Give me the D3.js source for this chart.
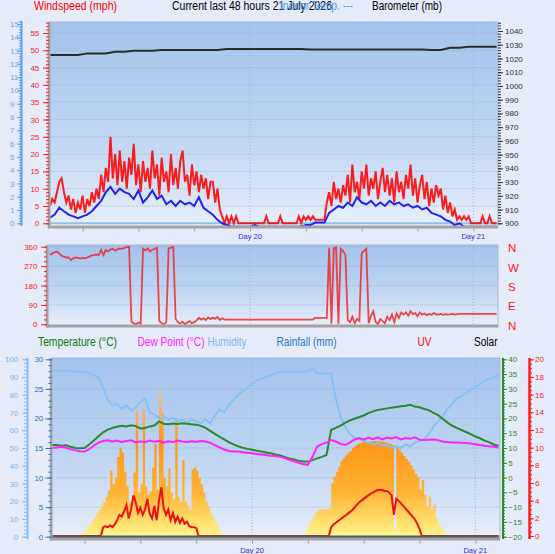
<!DOCTYPE html>
<html>
<head>
<meta charset="utf-8">
<title>Current last 48 hours</title>
<script src="https://d3js.org/d3.v7.min.js"></script>
<style>
  body { margin: 0; background: #e6ebf9; }
  svg { display: block; font-family: "Liberation Sans", Arial, sans-serif; }
</style>
</head>
<body>
<svg width="555" height="554"></svg>
<script>
// time base: hours relative to Day 20 00:00
const startHour = -21.5;
const endHour = 26.65;
const dayHours = [0, 24];
const dayLabels = ["Day 20", "Day 21"];

// wind gust (mph), one value every 15 min
const windGust = [
  5, 7, 6, 9, 12, 13, 9, 6, 8, 4,   7, 3, 6, 4, 8, 3, 7, 5, 9, 6,
  10, 7, 14, 9, 16, 12, 25, 13, 20, 11,   21, 12, 18, 10, 19, 14, 23, 11, 17, 9,
  18, 12, 16, 10, 21, 13, 17, 8, 19, 12,   15, 9, 20, 11, 16, 10, 18, 21, 12, 14,
  8, 17, 11, 15, 9, 14, 10, 13, 7, 12,   12, 6, 10, 4, 2, 0, 2, 0, 2, 0,
  2, 0, 0, 0, 0, 0, 0, 0, 0, 0,   0, 0, 0, 2, 0, 0, 0, 0, 0, 2,
  0, 0, 0, 0, 0, 0, 0, 2, 0, 2,   1, 2, 1, 2, 1, 1, 1, 1, 1, 6,
  9, 5, 12, 7, 10, 6, 11, 8, 14, 6,   17, 9, 12, 7, 15, 10, 17, 8, 13, 10,
  15, 7, 12, 16, 9, 14, 8, 13, 6, 15,   9, 12, 7, 14, 10, 17, 8, 13, 6, 11,
  14, 7, 12, 5, 10, 6, 11, 8, 10, 4,   8, 3, 6, 2, 4, 1, 2, 1, 2, 1,
  2, 0, 0, 0, 0, 0, 2, 0, 0, 2, 0, 0, 0
];
// average wind (mph), every 30 min
const windAvg = [
  1.6, 2.5, 4.5, 3.5, 2.5, 2, 1.5, 2, 2.5, 3.5,   5, 6.5, 9, 10.5, 8.5, 10, 9, 8.5, 7, 9.5,
  6, 7.5, 9.5, 7, 8, 5.5, 6.5, 5, 6.5, 5.5,   6, 5, 7.5, 4.5, 3.5, 2.5, 1, 0, -0.5, -1,
  -1, -1, -1, -1, -0.5, -1, -1, -1, -1, -1,   -1, -1, -1, -1, -1, -0.5, -0.5, 0.2, 0.2, 0.2,
  3, 4, 5, 4.5, 6, 5, 7.5, 6, 5.5, 6.5,   5, 6, 5, 6.5, 5.5, 6, 5, 5.5, 4.5, 5,
  4, 4.5, 3, 2.5, 2, 1, 0.5, -0.5, 0, -1,   -1, -1, -1, -1, -1, -1, -1
];
// barometer (mb), hourly
const barometer = [
  1022.5, 1022.5, 1022.5, 1022.5, 1023.7, 1023.7, 1023.7, 1024.9, 1024.9, 1025.6,
  1025.6, 1025.6, 1026.1, 1026.1, 1026.1, 1026.1, 1026.1, 1026.1, 1026.1, 1026.9,
  1026.9, 1026.9, 1026.9, 1026.9, 1026.9, 1026.9, 1026.9, 1026.9, 1026.6, 1026.6,
  1026.6, 1026.6, 1026.6, 1026.6, 1026.6, 1026.6, 1026.6, 1026.6, 1026.6, 1026.6,
  1026.6, 1026.2, 1026.2, 1027.8, 1027.8, 1028.5, 1028.5, 1028.5, 1028.5
];
// wind direction (degrees), every 15 min
const windDir = [
  321, 328, 335, 337, 328, 318, 314, 310, 310, 298,   306, 310, 308, 305, 308, 306, 310, 314, 320, 321,
  324, 321, 345, 321, 345, 338, 348, 350, 342, 348,   352, 350, 355, 358, 360, 12, 5, 0, 8, 3,
  350, 342, 352, 338, 346, 350, 355, 15, 5, 0,   10, 352, 356, 358, 26, 10, 3, 12, 0, 8,
  15, 5, 10, 18, 30, 22, 28, 20, 32, 25,   30, 26, 34, 20, 28, 22, 22, 22, 22, 22,
  22, 22, 22, 22, 22, 22, 22, 22, 22, 22,   22, 22, 22, 22, 22, 22, 22, 22, 22, 22,
  22, 22, 22, 22, 22, 22, 22, 22, 22, 22,   22, 22, 22, 22, 30, 30, 30, 30, 30, 30,
  355, 3, 352, 358, 2, 350, 340, 322, 20, 10,   35, 5, 25, 15, 330, 340, 350, 5, 40, 60,
  10, 0, 25, 15, 5, 35, 20, 45, 10, 50,   30, 55, 45, 55, 40, 60, 48, 52, 38, 55,
  45, 50, 42, 48, 44, 52, 46, 45, 48, 44,   47, 45, 46, 48, 45, 47, 48, 48, 48, 48,
  48, 48, 48, 48, 48, 48, 48, 48, 48, 48, 48, 48, 48
];

// humidity (%), temperature and dew point (°C), every 30 min
const humidity = [
  93.5, 93.5, 93.5, 93.5, 93.5, 93, 93, 93, 92.5, 91,   90, 84, 77, 74, 75, 72, 74, 71, 73, 76,
  78, 70, 69, 67, 68, 66, 67, 65, 66, 64,   66, 65, 64, 66, 64, 68, 72, 70, 74, 77,
  80, 82, 84, 86, 88, 89, 90, 91, 92, 93,   93, 93, 93, 93, 93, 93.5, 95, 92, 92, 92,
  92, 78, 68, 62, 58, 56, 55, 54, 53, 52,   53, 51, 52, 50, 51, 50, 52, 51, 53, 54,
  55, 58, 62, 65, 68, 72, 75, 78, 79, 81,   83, 84, 86, 88, 89, 90, 91
];
const temperature = [
  11.0, 11.0, 10.8, 10.9, 10.4, 10.0, 9.9, 10.0, 11.2, 12.5,   14.0, 15.3, 16.2, 16.8, 17.2, 17.5, 17.3, 17.7, 17.4, 16.6,
  16.8, 17.3, 17.6, 19.0, 18.2, 18.0, 18.3, 18.1, 18.4, 18.2,   18.0, 17.9, 17.5, 16.8, 15.8, 14.8, 13.8, 12.9, 12.0, 11.2,
  10.6, 10.1, 9.7, 9.4, 9.1, 8.8, 8.5, 8.2, 7.8, 7.5,   7.0, 6.5, 6.1, 5.7, 5.4, 5.4, 5.9, 6.5, 7.0, 7.6,
  16.1, 16.8, 17.6, 18.5, 19.3, 19.9, 20.4, 21.0, 21.8, 22.4,   22.9, 23.1, 23.4, 23.6, 23.9, 24.1, 24.3, 24.6, 24.0, 23.8,
  23.2, 22.8, 21.9, 21.1, 19.9, 18.6, 17.6, 16.8, 16.1, 15.4,   14.7, 13.9, 13.3, 12.5, 11.9, 11.2, 10.7
];
const dewPoint = [
  10.0, 10.2, 10.4, 10.1, 9.6, 9.2, 8.9, 8.8, 9.6, 10.8,   11.8, 12.4, 12.6, 12.2, 12.5, 12.0, 12.4, 12.6, 11.9, 12.2,
  12.0, 12.5, 12.1, 12.4, 11.8, 12.3, 12.0, 12.5, 12.2, 12.0,   12.3, 12.1, 12.4, 12.2, 11.8, 11.0, 10.2, 9.5, 9.0, 8.8,
  8.8, 8.6, 8.4, 8.2, 8.0, 7.8, 7.6, 7.4, 7.3, 7.0,   6.6, 6.0, 5.5, 5.0, 4.6, 4.3, 7.0, 10.5, 11.3, 11.8,
  12.7, 12.2, 11.4, 11.0, 11.8, 12.8, 13.4, 12.8, 13.5, 13.0,   13.6, 12.9, 13.5, 13.2, 13.7, 12.9, 13.4, 13.1, 13.6, 12.8,
  12.7, 12.8, 12.9, 12.6, 12.2, 12.0, 11.9, 11.9, 11.8, 11.7,   11.5, 11.3, 11.0, 10.8, 10.6, 10.4, 10.2
];
// rainfall (mm), every 6 h
const rainfall = [0, 0, 0, 0, 0, 0, 0, 0, 0];

// solar radiation (W/m²) and UV index, every 15 min
const solar = [
  0, 0, 0, 0, 0, 0, 0, 0, 0, 0,   0, 10, 25, 40, 60, 90, 120, 150, 180, 220,
  260, 280, 330, 380, 440, 630, 500, 560, 760, 840,   800, 620, 480, 330, 290, 610, 1200, 420, 500, 1220,
  480, 400, 430, 660, 880, 450, 1390, 1180, 560, 480,   650, 420, 360, 1110, 380, 330, 730, 340, 300, 260,
  640, 660, 630, 560, 500, 420, 330, 280, 220, 190,   140, 95, 55, 20, 0, 0, 0, 0, 0, 0,
  0, 0, 0, 0, 0, 0, 0, 0, 0, 0,   0, 0, 0, 0, 0, 0, 0, 0, 0, 0,
  0, 0, 0, 0, 0, 0, 0, 0, 10, 60,   110, 150, 195, 225, 250, 260, 260, 265, 262, 268,
  510, 570, 620, 670, 720, 750, 775, 800, 820, 845,   865, 880, 890, 898, 903, 906, 908, 910, 912, 912,
  910, 908, 905, 900, 893, 885, 875, 60, 850, 825,   800, 770, 740, 715, 680, 640, 600, 570, 450, 540,
  400, 290, 380, 255, 310, 175, 115, 85, 50, 25,   0, 0, 0, 0, 0, 0, 0, 0, 0, 0,
  0, 0, 0, 0, 0, 0, 0, 0, 0, 0, 0, 0, 0
];
const uvIndex = [
  0, 0, 0, 0, 0, 0, 0, 0, 0, 0,   0, 0, 0, 0, 0, 0, 0, 0, 0, 0,
  0, 0, 1.0, 1.1, 1.0, 1.2, 1.0, 1.3, 1.8, 2.4,   2.2, 2.8, 3.5, 2.0, 3.0, 4.6, 3.8, 2.6, 3.2, 2.4,
  3.0, 4.2, 2.5, 2.0, 3.4, 1.8, 4.0, 5.5, 3.2, 2.4,   3.0, 1.8, 2.6, 1.6, 2.2, 1.5, 2.0, 1.4, 1.6, 1.1,
  1.0, 1.0, 0.9, 0, 0, 0, 0, 0, 0, 0,   0, 0, 0, 0, 0, 0, 0, 0, 0, 0,
  0, 0, 0, 0, 0, 0, 0, 0, 0, 0,   0, 0, 0, 0, 0, 0, 0, 0, 0, 0,
  0, 0, 0, 0, 0, 0, 0, 0, 0, 0,   0, 0, 0, 0, 0, 0, 0, 0, 0, 0,
  1.0, 1.3, 1.5, 1.7, 1.9, 2.1, 2.3, 2.5, 2.7, 2.9,   3.2, 3.5, 3.8, 4.0, 4.2, 4.4, 4.6, 4.8, 4.9, 5.1,
  5.2, 5.2, 5.2, 5.1, 5.1, 4.9, 4.6, 2.4, 4.2, 4.0,   3.7, 3.4, 3.1, 2.8, 2.5, 2.2, 1.9, 1.4, 0.8, 0,
  0, 0, 0, 0, 0, 0, 0, 0, 0, 0,   0, 0, 0, 0, 0, 0, 0, 0, 0, 0,
  0, 0, 0, 0, 0, 0, 0, 0, 0, 0, 0, 0, 0
];

const svg = d3.select("svg");
svg.append("rect").attr("width", 555).attr("height", 554).attr("fill", "#e6ebf9");

const defs = svg.append("defs");
const bg = defs.append("linearGradient").attr("id", "panelBg")
  .attr("x1", 0).attr("y1", 0).attr("x2", 0).attr("y2", 1);
[[0, "#a4c3ee"], [0.5, "#bcd3f2"], [0.85, "#d9e5f7"], [1, "#eaf0fb"]]
  .forEach(([o, c]) => bg.append("stop").attr("offset", o).attr("stop-color", c));
const sg = defs.append("linearGradient").attr("id", "solarFill")
  .attr("gradientUnits", "userSpaceOnUse").attr("x1", 0).attr("x2", 0).attr("y1", 390).attr("y2", 537);
[[0, "#f8c488"], [0.36, "#ff9416"], [0.7, "#ffb437"], [1, "#fff68c"]]
  .forEach(([o, c]) => sg.append("stop").attr("offset", o).attr("stop-color", c));

// scales
const xTop = d3.scaleLinear().domain([startHour, endHour]).range([50, 498]);
const xBot = d3.scaleLinear().domain([startHour, endHour]).range([52, 500]);
const yWind = d3.scaleLinear().domain([0, 55]).range([223.3, 33]);
const yBlue = d3.scaleLinear().domain([0, 15]).range([223.3, 24]);
const yBaro = d3.scaleLinear().domain([900, 1040]).range([223.3, 31]);
const yDir = d3.scaleLinear().domain([0, 360]).range([324.3, 246.7]);
const yHum = d3.scaleLinear().domain([0, 100]).range([536.7, 359.3]);
const yRain = d3.scaleLinear().domain([0, 30]).range([536.7, 359.3]);
const yTemp = d3.scaleLinear().domain([-20, 40]).range([536.7, 359.3]);
const yUV = d3.scaleLinear().domain([0, 20]).range([536, 359.3]);
const ySolar = d3.scaleLinear().domain([0, 1700]).range([536.7, 358.3]);

const tAt = step => (d, i) => startHour + i * step;

const panels = [
  { id: "top", x0: 50, x1: 498, y0: 22, y1: 227 },
  { id: "mid", x0: 48, x1: 498, y0: 245, y1: 326 },
  { id: "bot", x0: 52, x1: 500, y0: 358, y1: 539 }
];
panels.forEach(p => {
  svg.append("rect").attr("x", p.x0).attr("y", p.y0)
    .attr("width", p.x1 - p.x0).attr("height", p.y1 - p.y0).attr("fill", "url(#panelBg)");
  defs.append("clipPath").attr("id", "clip-" + p.id).append("rect")
    .attr("x", p.x0).attr("y", p.y0).attr("width", p.x1 - p.x0).attr("height", p.y1 - p.y0);
});

function gridH(p, scale, values) {
  svg.append("g").selectAll("line").data(values).join("line")
    .attr("x1", p.x0).attr("x2", p.x1).attr("y1", d => scale(d)).attr("y2", d => scale(d))
    .attr("stroke", "#8ea5c8").attr("stroke-dasharray", "1,1").attr("stroke-opacity", 0.6);
}
function gridV(p, x) {
  svg.append("g").selectAll("line").data(dayHours).join("line")
    .attr("x1", d => x(d)).attr("x2", d => x(d)).attr("y1", p.y0).attr("y2", p.y1)
    .attr("stroke", "#9fb3d3").attr("stroke-dasharray", "1,2");
}
gridH(panels[0], yWind, d3.range(5, 60, 5));
gridV(panels[0], xTop);
gridH(panels[1], yDir, [90, 180, 270, 360]);
gridV(panels[1], xTop);
gridH(panels[2], yRain, [5, 10, 15, 20, 25]);
gridV(panels[2], xBot);

// ---- top panel: wind + barometer
const gTop = svg.append("g").attr("clip-path", "url(#clip-top)");
gTop.append("line").attr("x1", 50).attr("x2", 498).attr("y1", yBlue(0)).attr("y2", yBlue(0))
  .attr("stroke", "#8cc0f2").attr("stroke-width", 2);
gTop.append("path").datum(windGust)
  .attr("d", d3.line().x((d, i) => xTop(tAt(0.25)(d, i))).y(d => yWind(d)))
  .attr("fill", "none").attr("stroke", "#ff0000").attr("stroke-width", 2).attr("stroke-opacity", 0.88);
gTop.append("path").datum(windAvg)
  .attr("d", d3.line().x((d, i) => xTop(tAt(0.5)(d, i))).y(d => yWind(d)))
  .attr("fill", "none").attr("stroke", "#2424e8").attr("stroke-width", 2);
gTop.append("path").datum(barometer)
  .attr("d", d3.line().x((d, i) => xTop(tAt(1)(d, i))).y(d => yBaro(d)))
  .attr("fill", "none").attr("stroke", "#2b2b2b").attr("stroke-width", 2);

// ---- middle panel: wind direction
svg.append("g").attr("clip-path", "url(#clip-mid)").append("path").datum(windDir)
  .attr("d", d3.line().x((d, i) => xTop(tAt(0.25)(d, i))).y(d => yDir(d)))
  .attr("fill", "none").attr("stroke", "#f02828").attr("stroke-width", 1.8).attr("stroke-opacity", 0.85);

// ---- bottom panel
const gBot = svg.append("g").attr("clip-path", "url(#clip-bot)");
gBot.append("path").datum(solar)
  .attr("d", d3.area().curve(d3.curveStepAfter)
    .x((d, i) => xBot(tAt(0.25)(d, i))).y0(ySolar(0)).y1(d => ySolar(d)))
  .attr("fill", "url(#solarFill)");
gBot.append("path").datum(humidity)
  .attr("d", d3.line().x((d, i) => xBot(tAt(0.5)(d, i))).y(d => yHum(d)))
  .attr("fill", "none").attr("stroke", "#82c2f6").attr("stroke-width", 2);
gBot.append("path").datum(temperature)
  .attr("d", d3.line().x((d, i) => xBot(tAt(0.5)(d, i))).y(d => yTemp(d)))
  .attr("fill", "none").attr("stroke", "#2a8a2a").attr("stroke-width", 2);
gBot.append("path").datum(dewPoint)
  .attr("d", d3.line().x((d, i) => xBot(tAt(0.5)(d, i))).y(d => yTemp(d)))
  .attr("fill", "none").attr("stroke", "#ff22ff").attr("stroke-width", 2);
gBot.append("path").datum(uvIndex)
  .attr("d", d3.line().x((d, i) => xBot(tAt(0.25)(d, i))).y(d => yUV(d)))
  .attr("fill", "none").attr("stroke", "#ee1111").attr("stroke-width", 2);
gBot.append("path").datum(rainfall)
  .attr("d", d3.line().x((d, i) => xBot(tAt(6)(d, i))).y(d => yRain(d)))
  .attr("fill", "none").attr("stroke", "#4c5c70").attr("stroke-width", 2.5);

// ---- frames
panels.forEach(p => {
  svg.append("rect").attr("x", p.x0).attr("y", p.y0).attr("width", p.x1 - p.x0).attr("height", p.y1 - p.y0)
    .attr("fill", "none").attr("stroke", "#a9b6cf").attr("stroke-width", 1);
  svg.append("line").attr("x1", p.x0 - 1).attr("x2", p.x0 - 1).attr("y1", p.y0).attr("y2", p.y1 + 1.5)
    .attr("stroke", "#a2a2a2").attr("stroke-width", 2.5);
  svg.append("line").attr("x1", p.x0 - 2).attr("x2", p.x1).attr("y1", p.y1).attr("y2", p.y1)
    .attr("stroke", "#a2a2a2").attr("stroke-width", 3);
});

// 6-hour ticks and day labels
function timeTicks(x, y) {
  const g = svg.append("g").attr("transform", `translate(0,${y})`)
    .call(d3.axisBottom(x).tickValues(d3.range(-18, 27, 6)).tickSize(3).tickFormat(""));
  g.select(".domain").remove();
  g.selectAll("line").attr("stroke", "#9a9a9a");
}
timeTicks(xTop, 228.5);
timeTicks(xBot, 540.5);
function dayText(x, y) {
  svg.append("g").selectAll("text").data(dayHours).join("text")
    .attr("x", d => x(d)).attr("y", y).attr("text-anchor", "middle")
    .attr("fill", "#2c2cd6").style("font-size", "7.5px").text((d, i) => dayLabels[i]);
}
dayText(xTop, 239.3);
dayText(xBot, 552.7);

// ---- axes
function drawAxis(side, scale, x, majors, minors, color, o) {
  const mk = side === "left" ? d3.axisLeft : d3.axisRight;
  const g = svg.append("g").attr("transform", `translate(${x},0)`);
  g.append("g").call(mk(scale).tickValues(minors).tickSize(o.minor).tickFormat(""));
  const maj = g.append("g").call(mk(scale).tickValues(majors).tickSize(o.major)
    .tickPadding(o.pad).tickFormat(d3.format("d")));
  g.selectAll(".domain").remove();
  g.selectAll("line").attr("stroke", color);
  maj.selectAll("text").attr("fill", o.label || color).style("font-size", "8px")
    .style("font-family", "'Liberation Sans', Arial, sans-serif");
  if (o.startAt !== undefined) maj.selectAll("text").attr("text-anchor", "start").attr("x", o.startAt - x);
  return g;
}
const steps = (a, b, s) => d3.range(Math.round((b - a) / s) + 1).map(k => +(a + k * s).toFixed(2));

drawAxis("left", yBlue, 21, steps(0, 15, 1), steps(0, 15.2, 0.2), "#5b9fe6",
  { major: 4, minor: 2, pad: 1, startAt: 10, label: "#6aa6e8" });
svg.append("line").attr("x1", 21.5).attr("x2", 21.5).attr("y1", 21).attr("y2", 226)
  .attr("stroke", "#5b9fe6").attr("stroke-width", 2);
drawAxis("left", yWind, 49, steps(0, 55, 5), steps(0, 58, 1), "#ff2020", { major: 6, minor: 3, pad: 3.7 });
drawAxis("right", yBaro, 498, steps(900, 1040, 10), steps(900, 1046, 2), "#303030", { major: 5, minor: 3, pad: 2 });

drawAxis("left", yDir, 47, [0, 90, 180, 270, 360], steps(0, 360, 22.5), "#ff2020", { major: 6, minor: 3, pad: 3.5 });
svg.append("g").selectAll("text").data(["N", "W", "S", "E", "N"]).join("text")
  .attr("x", 508).attr("y", (d, i) => yDir(360 - i * 90) + 5.5)
  .attr("fill", "#ff1a1a").style("font-size", "11.5px").text(d => d);

drawAxis("left", yHum, 27, steps(0, 100, 10), steps(0, 100, 2), "#86bdf0", { major: 5, minor: 3, pad: 3.7, label: "#7db6ea" });
svg.append("line").attr("x1", 27.5).attr("x2", 27.5).attr("y1", 358).attr("y2", 539)
  .attr("stroke", "#86bdf0").attr("stroke-width", 2);
drawAxis("left", yRain, 51.5, steps(0, 30, 5), steps(0, 30, 1), "#2a78c8", { major: 6, minor: 3, pad: 2.2, label: "#1f6fc0" });
drawAxis("right", yTemp, 503, steps(-20, 40, 5), steps(-20, 40, 1), "#2a8a2a", { major: 4, minor: 2, pad: 1.3 });
svg.append("line").attr("x1", 503).attr("x2", 503).attr("y1", 358).attr("y2", 539)
  .attr("stroke", "#2a8a2a").attr("stroke-width", 2);
drawAxis("right", yUV, 530, steps(0, 20, 2), steps(0, 20, 0.5), "#ff1a1a", { major: 4, minor: 2, pad: 1 });
svg.append("line").attr("x1", 529.5).attr("x2", 529.5).attr("y1", 358).attr("y2", 539)
  .attr("stroke", "#ff1a1a").attr("stroke-width", 2.5);

// ---- titles (the date and the indoor-temp legend overlap in the original too)
const titles = [
  { t: "Windspeed (mph)", x: 34, y: 10, w: 83, c: "#ff0000" },
  { t: "Current last 48 hours 21 July 2026", x: 172, y: 10, w: 160, c: "#000000" },
  { t: "Indoor Temp. ---", x: 280, y: 10, w: 73, c: "#4c9ae6" },
  { t: "Barometer (mb)", x: 372, y: 10, w: 70, c: "#000000" },
  { t: "Temperature (°C)", x: 38, y: 346, w: 79, c: "#0a7a0a" },
  { t: "Dew Point (°C)", x: 137.5, y: 346, w: 67, c: "#ff22ff" },
  { t: "Humidity", x: 207.5, y: 346, w: 39, c: "#7ab8f0" },
  { t: "Rainfall (mm)", x: 276.5, y: 346, w: 60, c: "#1e78c8" },
  { t: "UV", x: 417.5, y: 346, w: 14, c: "#ee1111" },
  { t: "Solar", x: 474, y: 346, w: 23.5, c: "#000000" }
];
svg.append("g").selectAll("text").data(titles).join("text")
  .attr("x", d => d.x).attr("y", d => d.y).attr("fill", d => d.c)
  .attr("textLength", d => d.w).attr("lengthAdjust", "spacingAndGlyphs")
  .style("font-size", "12px").text(d => d.t);
</script>
</body>
</html>
